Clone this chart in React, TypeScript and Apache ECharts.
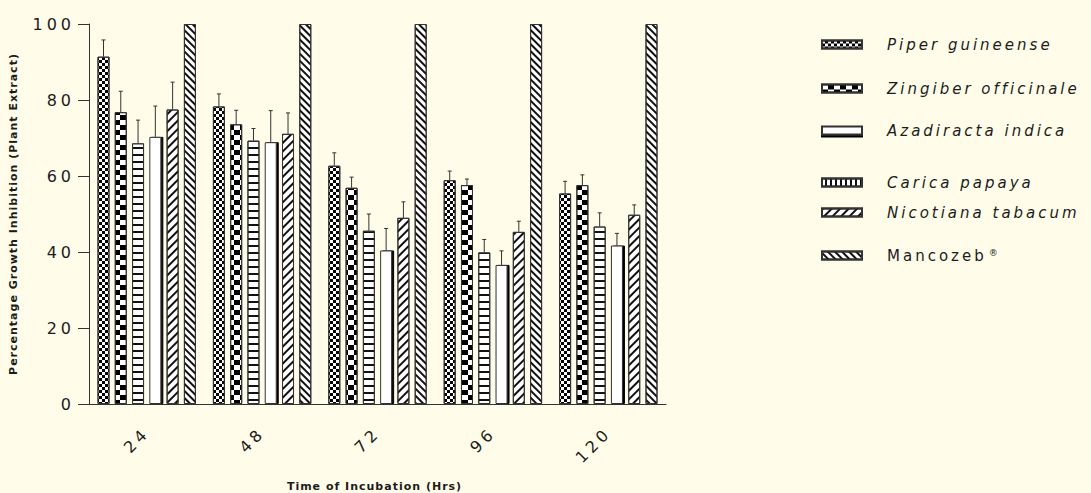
import React, { useEffect, useRef } from 'react';
import * as echarts from 'echarts';

// ---------- data ----------
const categories = ['24', '48', '72', '96', '120'];

// bar order in each group (left to right)
const seriesNames = [
  'Piper guineense',
  'Zingiber officinale',
  'Carica papaya',
  'Azadiracta indica',
  'Nicotiana tabacum',
  'Mancozeb®',
];
// legend order as printed
const legendOrder = [
  'Piper guineense',
  'Zingiber officinale',
  'Azadiracta indica',
  'Carica papaya',
  'Nicotiana tabacum',
  'Mancozeb®',
];

const piperGuineense = [91.4, 78.3, 62.7, 58.9, 55.4];
const piperGuineenseErr = [4.4, 3.3, 3.4, 2.4, 3.2];
const zingiberOfficinale = [76.8, 73.6, 56.9, 57.6, 57.6];
const zingiberOfficinaleErr = [5.5, 3.7, 2.8, 1.6, 2.7];
const caricaPapaya = [68.6, 69.3, 45.6, 39.9, 46.7];
const caricaPapayaErr = [6.1, 3.2, 4.4, 3.4, 3.6];
const azadiractaIndica = [70.3, 68.9, 40.4, 36.6, 41.7];
const azadiractaIndicaErr = [8.1, 8.3, 5.8, 3.7, 3.2];
const nicotianaTabacum = [77.5, 71.1, 49.0, 45.3, 49.8];
const nicotianaTabacumErr = [7.2, 5.5, 4.2, 2.8, 2.6];
const mancozeb = [100, 100, 100, 100, 100];
const mancozebErr = [0, 0, 0, 0, 0];

const seriesValues = [piperGuineense, zingiberOfficinale, caricaPapaya, azadiractaIndica, nicotianaTabacum, mancozeb];
const seriesErrors = [piperGuineenseErr, zingiberOfficinaleErr, caricaPapayaErr, azadiractaIndicaErr, nicotianaTabacumErr, mancozebErr];

const yMin = 0;
const yMax = 100;
const yInterval = 20;

// ---------- styling ----------
const BG = '#FFFCE9';
const INK = '#1c1c1c';
const FONT = 'DejaVu Sans';
const BAR_WIDTH = 12;
const BAR_GAP_RATIO = 0.44;
const LEGEND_CENTERS = [45, 89, 131, 183, 213, 256];

const lineDecal = (thick: number, gap: number, rotation: number) => ({
  symbol: 'rect',
  symbolSize: 1,
  color: '#111',
  dashArrayX: [8, 0],
  dashArrayY: [thick, gap],
  rotation,
});

const decals: Record<string, any> = {
  'Piper guineense': {
    symbol: 'rect', symbolSize: 1, color: '#000',
    dashArrayX: [[3, 3], [0, 3, 3, 0]], dashArrayY: [3, 0], rotation: 0,
  },
  'Zingiber officinale': {
    symbol: 'rect', symbolSize: 1, color: '#000',
    dashArrayX: [[6, 6], [0, 6, 6, 0]], dashArrayY: [5, 0], rotation: 0,
  },
  'Carica papaya': lineDecal(2, 5, 0),
  'Azadiracta indica': null,
  'Nicotiana tabacum': lineDecal(2, 4, -Math.PI / 4),
  'Mancozeb®': lineDecal(2, 3, Math.PI / 4),
};

const css = `
#plant-chart text[style*="16px"]{letter-spacing:4px}
#plant-chart text[style*="15px"]{letter-spacing:3px}
#plant-chart text[style*="11px"]{letter-spacing:1px}
`;

export default function App() {
  const ref = useRef<HTMLDivElement>(null);

  useEffect(() => {
    if (!ref.current) return;
    const chart = echarts.init(ref.current, null, { renderer: 'svg' });
    const n = seriesNames.length;
    const step = BAR_WIDTH * (1 + BAR_GAP_RATIO);

    const barSeries = seriesNames.map((name, i) => ({
      type: 'bar',
      name,
      data: seriesValues[i],
      barWidth: BAR_WIDTH,
      barGap: `${BAR_GAP_RATIO * 100}%`,
      itemStyle: {
        color: '#ffffff',
        borderColor: '#333',
        borderWidth: 1,
        decal: decals[name] || undefined,
        ...(name === 'Azadiracta indica'
          ? { shadowColor: '#000', shadowOffsetX: 2, shadowOffsetY: 0, shadowBlur: 0 }
          : {}),
      },
      z: 2,
    }));

    const errorSeries = seriesNames
      .map((name, i) => ({ name, i }))
      .filter(({ i }) => seriesErrors[i].some((e) => e > 0))
      .map(({ name, i }) => ({
        type: 'custom',
        name: `${name} error`,
        z: 5,
        encode: { x: 0, y: 1 },
        data: categories.map((_, ci) => [ci, seriesValues[i][ci], seriesErrors[i][ci]]),
        renderItem: (params: any, api: any) => {
          const ci = api.value(0);
          const v = api.value(1);
          const e = api.value(2);
          const base = api.coord([ci, v]);
          const top = api.coord([ci, v + e]);
          const x = base[0] + (i - (n - 1) / 2) * step;
          const style = { stroke: '#333', lineWidth: 1 };
          return {
            type: 'group',
            children: [
              { type: 'line', shape: { x1: x, y1: base[1], x2: x, y2: top[1] }, style },
              { type: 'line', shape: { x1: x - 2, y1: top[1], x2: x + 2, y2: top[1] }, style },
            ],
          };
        },
      }));

    const legends = legendOrder.map((name, k) => {
      const isMan = name === 'Mancozeb®';
      const item: any = { name };
      if (name === 'Carica papaya') {
        item.itemStyle = { decal: lineDecal(2, 3, Math.PI / 2) };
      }
      if (name === 'Azadiracta indica') {
        item.itemStyle = { shadowColor: '#000', shadowOffsetY: 2, shadowOffsetX: 0, shadowBlur: 0 };
      }
      return {
        data: [item],
        left: 821,
        top: LEGEND_CENTERS[k] - 8,
        padding: 0,
        icon: 'rect',
        itemWidth: 40,
        itemHeight: 8,
        selectedMode: false,
        formatter: isMan ? '{a|Mancozeb}{b|®}' : undefined,
        textStyle: {
          fontFamily: FONT,
          fontSize: 15,
          fontStyle: isMan ? 'normal' : 'italic',
          color: INK,
          padding: [0, 0, 0, 20],
          rich: isMan
            ? {
                a: { fontFamily: FONT, fontSize: 15, color: INK },
                b: { fontFamily: FONT, fontSize: 9, color: INK, verticalAlign: 'top', padding: [0, 0, 6, 26] },
              }
            : undefined,
        },
      };
    });

    chart.setOption({
      animation: false,
      backgroundColor: BG,
      grid: { left: 89, top: 24, right: 425, bottom: 89, containLabel: false, outerBoundsMode: 'none' },
      legend: legends,
      xAxis: {
        type: 'category',
        data: categories,
        name: 'Time of Incubation (Hrs)',
        nameLocation: 'middle',
        nameGap: 77,
        nameTextStyle: { fontFamily: FONT, fontSize: 11, fontWeight: 'bold', color: INK, padding: [0, 6, 0, 0] },
        axisLine: { lineStyle: { color: '#333', width: 1 } },
        axisTick: { alignWithLabel: true, length: 10, lineStyle: { color: '#333' } },
        axisLabel: { rotate: 45, margin: 26, fontFamily: FONT, fontSize: 16, color: INK, padding: [0, 0, 0, 0] },
      },
      yAxis: {
        type: 'value',
        min: yMin,
        max: yMax,
        interval: yInterval,
        name: 'Percentage Growth Inhibition (Plant Extract)',
        nameLocation: 'middle',
        nameGap: 70,
        nameTextStyle: { fontFamily: FONT, fontSize: 11, fontWeight: 'bold', color: INK },
        axisLine: { show: true, lineStyle: { color: '#333', width: 1 } },
        axisTick: { show: true, length: 11, lineStyle: { color: '#333' } },
        splitLine: { show: false },
        axisLabel: { margin: 14, fontFamily: FONT, fontSize: 16, color: INK },
      },
      series: [...barSeries, ...errorSeries],
    });

    return () => chart.dispose();
  }, []);

  return (
    <>
      <style>{css}</style>
      <div
        id="plant-chart"
        ref={ref}
        style={{ position: 'absolute', left: 0, top: 0, width: 1091, height: 493 }}
      />
    </>
  );
}
